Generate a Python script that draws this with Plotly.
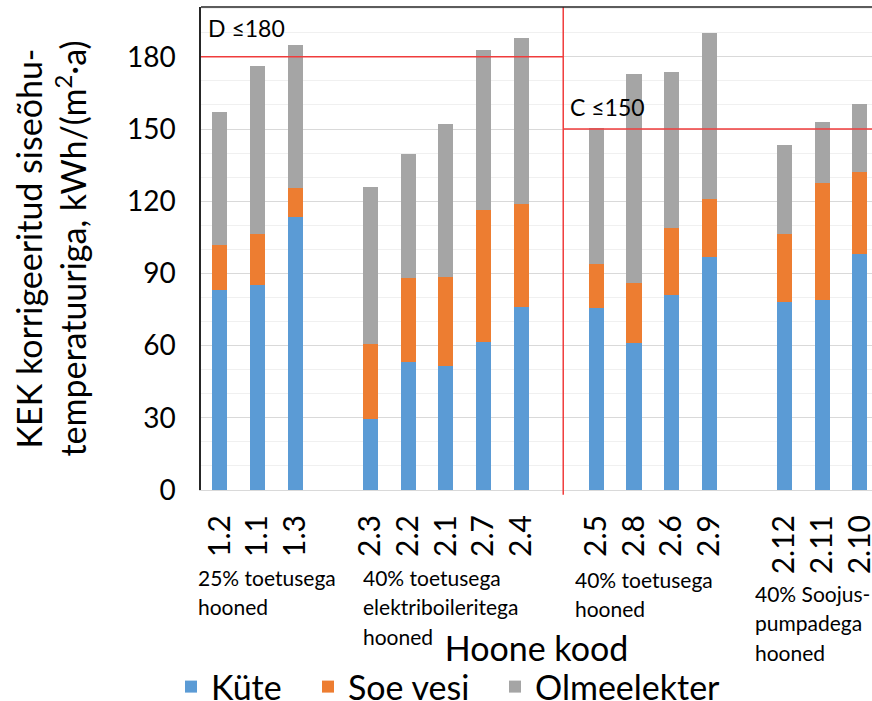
import plotly.graph_objects as go

# ---- data ----
codes = ["1.2", "1.1", "1.3",
         "2.3", "2.2", "2.1", "2.7", "2.4",
         "2.5", "2.8", "2.6", "2.9",
         "2.12", "2.11", "2.10"]
group_of = [0, 0, 0, 1, 1, 1, 1, 1, 2, 2, 2, 2, 3, 3, 3]
group_labels = ["25% toetusega<br>hooned",
                "40% toetusega<br>elektriboileritega<br>hooned",
                "40% toetusega<br>hooned",
                "40% Soojus-<br>pumpadega<br>hooned"]
kute = [83, 85, 113.5, 29.5, 53, 51.5, 61.5, 76, 75.5, 61, 81, 97, 78, 79, 98]
soe_vesi = [19, 21.5, 12, 31, 35, 37, 55, 43, 18.5, 25, 28, 24, 28.5, 48.5, 34]
olmeelekter = [55, 69.5, 59.5, 65.5, 51.5, 63.5, 66.5, 69, 56.5, 87, 64.5, 69, 37, 25.5, 28.5]
series_names = ["Küte", "Soe vesi", "Olmeelekter"]
series_colors = ["#5B9BD5", "#ED7D31", "#A5A5A5"]
thresholds = [180, 150]
threshold_labels = ["D ≤180", "C ≤150"]
y_ticks = [0, 30, 60, 90, 120, 150, 180]

FONT = "Lato"
W, H = 872, 701
ML, MR, MT, MB = 201, 0, 7, 211
PW, PH = W - ML - MR, H - MT - MB

# build category slots with an empty slot between groups
x_cats = []
series_vals = [[], [], []]
gap_n = 0
for i, c in enumerate(codes):
    if i > 0 and group_of[i] != group_of[i - 1]:
        gap_n += 1
        x_cats.append(" " * gap_n)
        for s in series_vals:
            s.append(None)
    x_cats.append(c)
    series_vals[0].append(kute[i])
    series_vals[1].append(soe_vesi[i])
    series_vals[2].append(olmeelekter[i])

legend_ids = ["legend", "legend2", "legend3"]
legend_text_px = [213, 350, 537]   # left edge of each legend label

fig = go.Figure()
for name, col, vals, lid in zip(series_names, series_colors, series_vals, legend_ids):
    fig.add_trace(go.Bar(x=x_cats, y=vals, name=name, legend=lid, showlegend=True,
                         marker=dict(color=col, line=dict(width=0))))

split = x_cats.index(" " * 2) + 0.12  # boundary between 40% groups
x_end = len(x_cats) - 1 + 0.32
y_top = 200.7

red = "#F03C3C"
shapes = [
    dict(type="line", xref="x", yref="y", x0=-0.55, x1=split, y0=thresholds[0], y1=thresholds[0],
         line=dict(color=red, width=1.5)),
    dict(type="line", xref="x", yref="y", x0=split, x1=x_end, y0=thresholds[1], y1=thresholds[1],
         line=dict(color=red, width=1.5)),
    dict(type="line", xref="x", yref="paper", x0=split, x1=split, y0=-0.01, y1=1,
         line=dict(color=red, width=1.5)),
    dict(type="line", xref="paper", yref="paper", x0=0, x1=1, y0=1, y1=1,
         line=dict(color="#262626", width=1.5)),
]

annotations = [
    dict(text=threshold_labels[0], xref="x", yref="y", x=-0.36, y=thresholds[0] + 12,
         xanchor="left", yanchor="middle", showarrow=False, font=dict(family=FONT, size=23, color="black")),
    dict(text=threshold_labels[1], xref="x", yref="y", x=split + 0.12, y=thresholds[1] + 9,
         xanchor="left", yanchor="middle", showarrow=False, font=dict(family=FONT, size=23, color="black")),
]
# group captions: one annotation per line (left px, centre px of first line)
grp_px = [(196, 577), (361, 577), (573, 579), (753, 593)]
LINE_H = 29.5
for lab, (px, py) in zip(group_labels, grp_px):
    for k, line in enumerate(lab.split("<br>")):
        annotations.append(dict(text=line, xref="paper", yref="paper",
                                x=(px - ML) / PW, y=(H - MB - (py + k * LINE_H)) / PH,
                                xanchor="left", yanchor="middle", align="left", showarrow=False,
                                font=dict(family=FONT, size=21, color="black")))

legends = {}
for lid, tx in zip(legend_ids, legend_text_px):
    legends[lid] = dict(visible=True, orientation="h", x=(tx - 42 - ML) / PW, xanchor="left",
                        y=(H - MB - 687) / PH, yanchor="middle",
                        font=dict(family=FONT, size=34, color="black"), bgcolor="rgba(0,0,0,0)")

fig.update_layout(
    width=W, height=H,
    margin=dict(l=ML, r=MR, t=MT, b=MB, autoexpand=False),
    paper_bgcolor="white", plot_bgcolor="white",
    showlegend=True,
    barmode="stack", bargap=0.6,
    font=dict(family=FONT, color="black"),
    shapes=shapes, annotations=annotations,
    **legends,
    xaxis=dict(type="category", range=[-0.5, x_end], tickvals=codes, ticktext=codes,
               tickangle=-90, tickfont=dict(family=FONT, size=30, color="black"),
               ticks="", ticklabelstandoff=12, showgrid=False,
               showline=True, linecolor="#D9D9D9", linewidth=1,
               title=dict(text="Hoone kood", font=dict(family=FONT, size=34, color="black"), standoff=63)),
    yaxis=dict(range=[0, y_top], tickvals=y_ticks, tickfont=dict(family=FONT, size=28, color="black"),
               ticks="", ticklabelstandoff=18,
               showgrid=True, gridcolor="#D9D9D9", gridwidth=1,
               minor=dict(dtick=10, showgrid=True, gridcolor="#F0F0F0", gridwidth=1),
               zeroline=False, showline=True, linecolor="#262626", linewidth=1.5,
               title=dict(text="KEK korrigeeritud siseõhu-<br>temperatuuriga, kWh/(m<sup>2</sup>·a)",
                          font=dict(family=FONT, size=34, color="black"), standoff=30)),
)

fig.write_html("out.html", config={"displayModeBar": False},
               post_script="document.body.style.margin='0';document.body.style.overflow='hidden';")
